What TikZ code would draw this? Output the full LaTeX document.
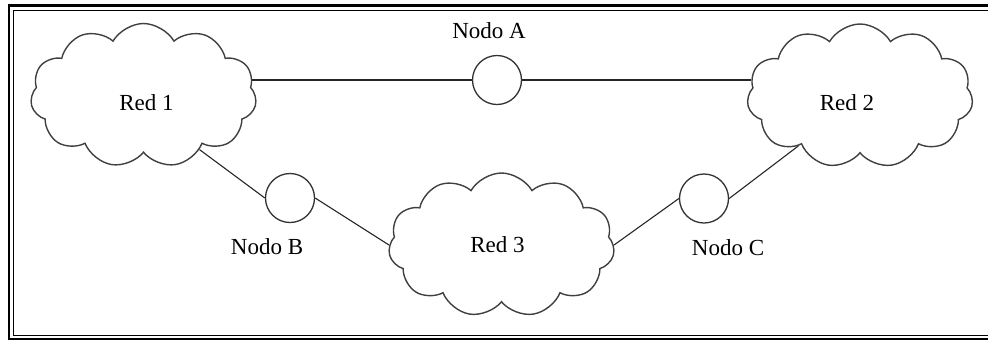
\documentclass[tikz,border=0pt]{standalone}
\usepackage{fontspec}
\setmainfont{Liberation Serif}
\usetikzlibrary{positioning,shapes.symbols}

\begin{document}
\begin{tikzpicture}[
      x=0.5pt, y=-0.5pt,
      auto
    ]

    \tikzstyle{nube} = [cloud, cloud puffs=11, cloud puff arc=120, cloud ignores aspect, draw=black!75, line width=0.7pt, fill=white, minimum width=113pt, minimum height=72pt, inner sep=0pt]

    \tikzstyle{nodo} = [circle, draw=black!80, line width=0.65pt, minimum size=24.5pt, inner sep=0pt]

    \tikzstyle{texto} = [inner sep=0pt, font=\fontsize{11.5}{13}\selectfont]

    \tikzstyle{enlace} = [line width=0.55pt, black!85]

    % marco doble, abierto por la derecha
    \clip (0,0) rectangle (988,344);
    \draw [line width=1.2pt] (9,5.5) rectangle (1010,339);
    \draw [line width=0.5pt] (13.5,10) rectangle (1010,335);

    % redes
    \node [nube, label={[texto, xshift=1.5pt, yshift=-3.5pt]center:Red 1}] (red1) at (143.5,95.5) {};
    \node [nube, label={[texto, xshift=-6.5pt, yshift=-3.5pt]center:Red 2}] (red2) at (860,96) {};
    \node [nube, label={[texto, xshift=-2pt]center:Red 3}] (red3) at (501.5,245) {};

    % nodos
    \node [nodo] (nodoA) at (497,80) {};
    \node [nodo] (nodoB) at (290,198) {};
    \node [nodo] (nodoC) at (704,198.5) {};

    \node [texto] (etqA) [above=8pt of nodoA, xshift=-4pt] {Nodo A};
    \node [texto] (etqB) [below=7.5pt of nodoB, xshift=-11.5pt] {Nodo B};
    \node [texto] (etqC) [below=7.5pt of nodoC, xshift=12pt] {Nodo C};

    % enlaces
    \draw [enlace] (nodoA.west -| red1.8) -- (nodoA.west);
    \draw [enlace] (nodoA.east) -- (nodoA.east -| red2.172);
    \draw [enlace] (red1.-44) -- (nodoB.west);
    \draw [enlace] (nodoB.east) -- (red3.west);
    \draw [enlace] (red3.east) -- (nodoC.west);
    \draw [enlace] (nodoC.east) -- (red2.-141);

\end{tikzpicture}
\end{document}
